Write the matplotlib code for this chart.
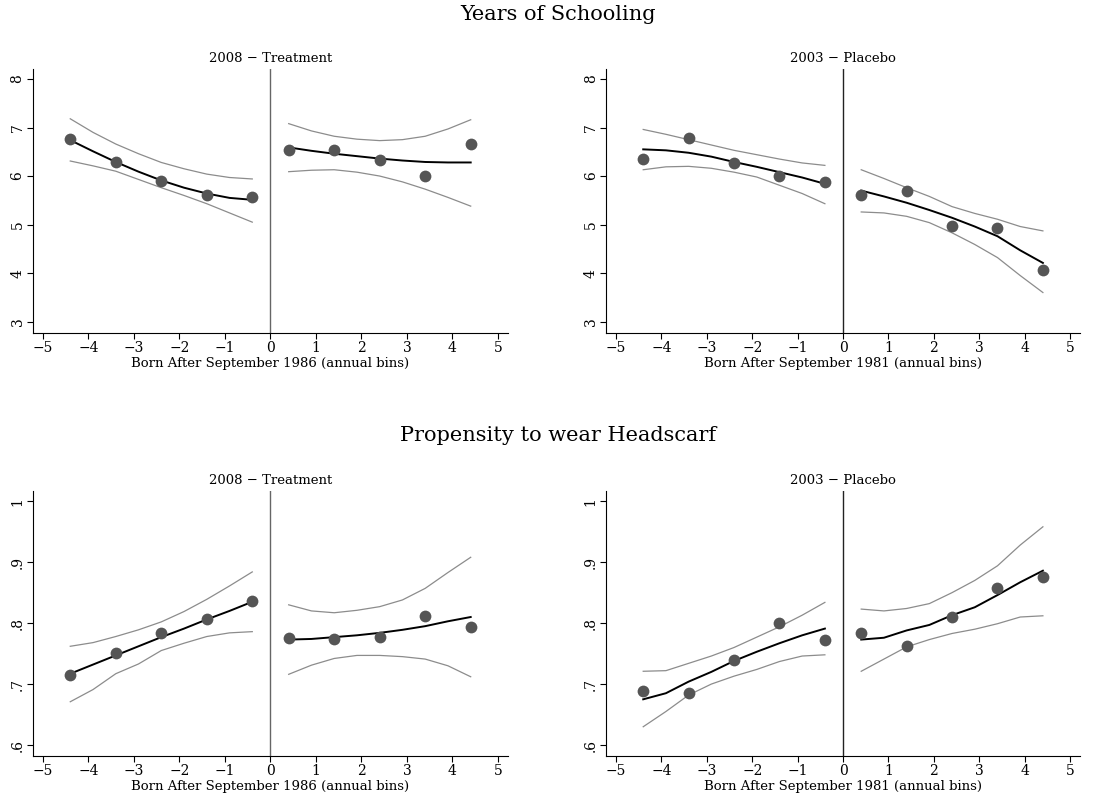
import numpy as np
import matplotlib
matplotlib.use('Agg')
import matplotlib.pyplot as plt

plt.rcParams['font.family'] = 'DejaVu Serif'
plt.rcParams['axes.unicode_minus'] = True

# bin centres (annual bins) and grid where the fitted curves were read
x_left = [-4.4, -3.4, -2.4, -1.4, -0.4]
x_right = [0.4, 1.4, 2.4, 3.4, 4.4]
grid_left = [-4.4, -3.9, -3.4, -2.9, -2.4, -1.9, -1.4, -0.9, -0.4]
grid_right = [0.4, 0.9, 1.4, 1.9, 2.4, 2.9, 3.4, 3.9, 4.4]

# Years of schooling, 2008 - Treatment
sch08_pts = [6.77, 6.28, 5.89, 5.60, 5.57, 6.54, 6.53, 6.33, 6.00, 6.67]
sch08_fit_l = [6.74, 6.51, 6.29, 6.09, 5.91, 5.76, 5.64, 5.55, 5.51]
sch08_hi_l = [7.18, 6.90, 6.66, 6.46, 6.28, 6.15, 6.04, 5.97, 5.94]
sch08_lo_l = [6.31, 6.21, 6.10, 5.93, 5.76, 5.60, 5.43, 5.24, 5.05]
sch08_fit_r = [6.59, 6.52, 6.46, 6.41, 6.36, 6.32, 6.29, 6.28, 6.28]
sch08_hi_r = [7.08, 6.93, 6.82, 6.76, 6.73, 6.75, 6.82, 6.97, 7.16]
sch08_lo_r = [6.09, 6.12, 6.13, 6.08, 6.00, 5.88, 5.73, 5.56, 5.38]

# Years of schooling, 2003 - Placebo
sch03_pts = [6.36, 6.78, 6.27, 6.01, 5.87, 5.61, 5.70, 4.98, 4.93, 4.06]
sch03_fit_l = [6.55, 6.53, 6.48, 6.40, 6.29, 6.19, 6.08, 5.97, 5.84]
sch03_hi_l = [6.96, 6.86, 6.75, 6.64, 6.53, 6.44, 6.35, 6.27, 6.22]
sch03_lo_l = [6.13, 6.19, 6.20, 6.16, 6.08, 5.98, 5.81, 5.64, 5.43]
sch03_fit_r = [5.70, 5.58, 5.45, 5.30, 5.14, 4.96, 4.76, 4.47, 4.21]
sch03_hi_r = [6.13, 5.95, 5.76, 5.58, 5.37, 5.23, 5.11, 4.96, 4.87]
sch03_lo_r = [5.26, 5.24, 5.17, 5.04, 4.83, 4.59, 4.32, 3.95, 3.60]

# Propensity to wear headscarf, 2008 - Treatment
hs08_pts = [0.715, 0.751, 0.784, 0.806, 0.836, 0.776, 0.774, 0.778, 0.812, 0.793]
hs08_fit_l = [0.717, 0.732, 0.747, 0.762, 0.777, 0.791, 0.806, 0.820, 0.835]
hs08_hi_l = [0.762, 0.768, 0.778, 0.789, 0.802, 0.819, 0.839, 0.861, 0.884]
hs08_lo_l = [0.671, 0.691, 0.717, 0.733, 0.755, 0.767, 0.778, 0.784, 0.786]
hs08_fit_r = [0.773, 0.774, 0.777, 0.780, 0.784, 0.789, 0.795, 0.803, 0.810]
hs08_hi_r = [0.830, 0.820, 0.817, 0.821, 0.827, 0.838, 0.857, 0.883, 0.908]
hs08_lo_r = [0.716, 0.731, 0.742, 0.747, 0.747, 0.745, 0.741, 0.730, 0.712]

# Propensity to wear headscarf, 2003 - Placebo
hs03_pts = [0.689, 0.685, 0.740, 0.801, 0.773, 0.783, 0.763, 0.810, 0.858, 0.875]
hs03_fit_l = [0.675, 0.685, 0.704, 0.720, 0.738, 0.753, 0.767, 0.780, 0.791]
hs03_hi_l = [0.721, 0.722, 0.734, 0.746, 0.760, 0.777, 0.794, 0.813, 0.834]
hs03_lo_l = [0.630, 0.655, 0.682, 0.700, 0.713, 0.724, 0.737, 0.746, 0.748]
hs03_fit_r = [0.773, 0.776, 0.788, 0.797, 0.813, 0.826, 0.846, 0.867, 0.886]
hs03_hi_r = [0.823, 0.820, 0.824, 0.832, 0.850, 0.870, 0.894, 0.928, 0.958]
hs03_lo_r = [0.721, 0.741, 0.761, 0.773, 0.783, 0.790, 0.799, 0.810, 0.812]

sch_yticks = [3, 4, 5, 6, 7, 8]
sch_ylabels = ['3', '4', '5', '6', '7', '8']
hs_yticks = [0.6, 0.7, 0.8, 0.9, 1.0]
hs_ylabels = ['.6', '.7', '.8', '.9', '1']
xticks = [-5, -4, -3, -2, -1, 0, 1, 2, 3, 4, 5]

fig = plt.figure(figsize=(11.17, 8), dpi=100)

panels = [
    # position, title, xlabel, data..., ylim, yticks, labels, zero-line colour
    ([0.0295, 0.584, 0.4253, 0.330], '2008 \u2212 Treatment', 'Born After September 1986 (annual bins)',
     sch08_pts, sch08_fit_l, sch08_hi_l, sch08_lo_l, sch08_fit_r, sch08_hi_r, sch08_lo_r,
     (2.77, 8.21), sch_yticks, sch_ylabels, '#666666'),
    ([0.5425, 0.584, 0.4245, 0.330], '2003 \u2212 Placebo', 'Born After September 1981 (annual bins)',
     sch03_pts, sch03_fit_l, sch03_hi_l, sch03_lo_l, sch03_fit_r, sch03_hi_r, sch03_lo_r,
     (2.77, 8.21), sch_yticks, sch_ylabels, '#222222'),
    ([0.0295, 0.055, 0.4253, 0.331], '2008 \u2212 Treatment', 'Born After September 1986 (annual bins)',
     hs08_pts, hs08_fit_l, hs08_hi_l, hs08_lo_l, hs08_fit_r, hs08_hi_r, hs08_lo_r,
     (0.582, 1.0164), hs_yticks, hs_ylabels, '#666666'),
    ([0.5425, 0.055, 0.4245, 0.331], '2003 \u2212 Placebo', 'Born After September 1981 (annual bins)',
     hs03_pts, hs03_fit_l, hs03_hi_l, hs03_lo_l, hs03_fit_r, hs03_hi_r, hs03_lo_r,
     (0.582, 1.0164), hs_yticks, hs_ylabels, '#222222'),
]

for (pos, title, xlab, pts, fl, hl, ll, fr, hr, lr, ylim, yt, ylab, zc) in panels:
    ax = fig.add_axes(pos)
    ax.axvline(0, color=zc, lw=1.0, zorder=1)
    for gx, hi, lo, fit in [(grid_left, hl, ll, fl), (grid_right, hr, lr, fr)]:
        ax.plot(gx, hi, color='#8c8c8c', lw=0.9, zorder=2)
        ax.plot(gx, lo, color='#8c8c8c', lw=0.9, zorder=2)
        ax.plot(gx, fit, color='black', lw=1.4, zorder=3)
    ax.scatter(x_left + x_right, pts, s=72, color='#555555', zorder=4, linewidths=0)
    ax.set_xlim(-5.22, 5.22)
    ax.set_ylim(*ylim)
    ax.set_xticks(xticks)
    ax.set_xticklabels([str(t).replace('-', '\u2212') for t in xticks], fontsize=10)
    ax.set_yticks(yt)
    ax.set_yticklabels(ylab, rotation=90, va='center', fontsize=10)
    ax.spines['top'].set_visible(False)
    ax.spines['right'].set_visible(False)
    ax.tick_params(direction='out', length=4, width=0.8, pad=2)
    ax.set_xlabel(xlab, fontsize=9.5, labelpad=1.5)
    ax.set_title(title, fontsize=9.5, pad=5)

fig.text(0.5, 0.982, 'Years of Schooling', ha='center', va='center', fontsize=15)
fig.text(0.5, 0.456, 'Propensity to wear Headscarf', ha='center', va='center', fontsize=15)

fig.savefig('out.png', dpi=100)
